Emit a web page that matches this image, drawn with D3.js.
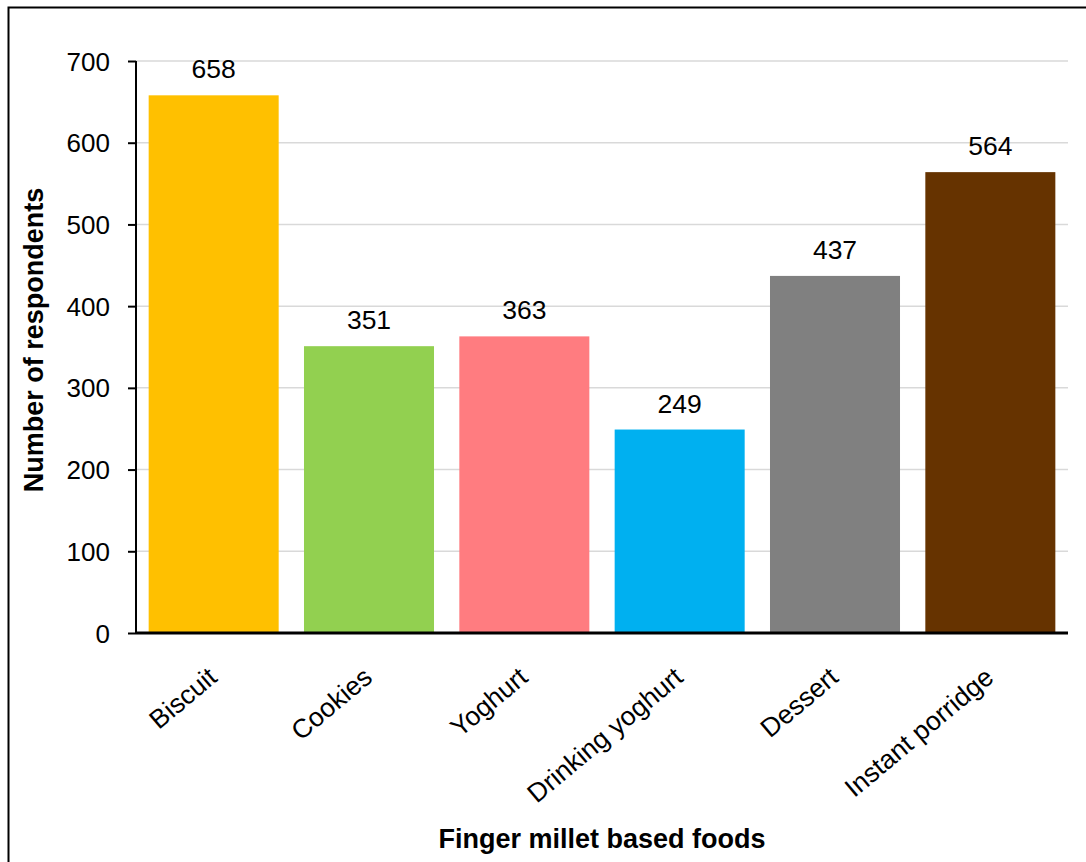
<!DOCTYPE html>
<html>
<head>
<meta charset="utf-8">
<script src="https://d3js.org/d3.v7.min.js"></script>
<style>
    body { margin: 0; background: #fff; }
    text { font-family: "Liberation Sans", Arial, sans-serif; fill: #000; }
</style>
</head>
<body>
<svg id="chart" width="1086" height="862"></svg>
<script>
    // data
    var categories = ["Biscuit", "Cookies", "Yoghurt", "Drinking yoghurt", "Dessert", "Instant porridge"];
    var values = [658, 351, 363, 249, 437, 564];
    var colors = ["#FFC000", "#92D050", "#FF7C80", "#00B0F0", "#808080", "#663300"];
    var yTicks = [0, 100, 200, 300, 400, 500, 600, 700];

    var svg = d3.select("#chart");

    // outer frame (runs off the right/bottom edge)
    svg.append("rect")
        .attr("x", 8.5).attr("y", 7.5)
        .attr("width", 1100).attr("height", 900)
        .attr("fill", "none").attr("stroke", "#000").attr("stroke-width", 2);

    var pLeft = 136, pRight = 1068, pTop = 61, pBottom = 633;

    var xs = d3.scaleBand().domain(categories).range([pLeft, pRight]).paddingInner(0.163).paddingOuter(0.0815);
    var ys = d3.scaleLinear().domain([0, 700]).range([pBottom, pTop]);

    // gridlines
    svg.append("g")
        .selectAll("line").data(yTicks.slice(1)).enter().append("line")
        .attr("x1", pLeft).attr("x2", pRight)
        .attr("y1", function (d) { return ys(d); })
        .attr("y2", function (d) { return ys(d); })
        .attr("stroke", "#d9d9d9").attr("stroke-width", 1.5);

    // bars
    svg.append("g")
        .selectAll("rect").data(values).enter().append("rect")
        .attr("x", function (d, i) { return xs(categories[i]); })
        .attr("y", function (d) { return ys(d); })
        .attr("width", xs.bandwidth())
        .attr("height", function (d) { return pBottom - ys(d); })
        .attr("fill", function (d, i) { return colors[i]; });

    // value labels
    svg.append("g")
        .selectAll("text").data(values).enter().append("text")
        .attr("x", function (d, i) { return xs(categories[i]) + xs.bandwidth() / 2; })
        .attr("y", function (d) { return ys(d) - 17; })
        .attr("text-anchor", "middle")
        .style("font-size", "26.5px")
        .text(function (d) { return d; });

    // y axis
    var yAxis = svg.append("g")
        .attr("transform", "translate(" + pLeft + ",0)")
        .call(d3.axisLeft(ys).tickValues(yTicks).tickSize(8).tickPadding(18));
    yAxis.select(".domain").attr("stroke", "#000").attr("stroke-width", 2).attr("d", "M0," + pTop + "V" + pBottom);
    yAxis.selectAll(".tick line").attr("stroke", "#000").attr("stroke-width", 2);
    yAxis.selectAll(".tick text").style("font-size", "26px").style("font-family", "'Liberation Sans', Arial, sans-serif").attr("dy", "0.35em");

    // x axis
    var xAxis = svg.append("g")
        .attr("transform", "translate(0," + pBottom + ")")
        .call(d3.axisBottom(xs).tickSize(0).tickPadding(0));
    xAxis.select(".domain").attr("stroke", "#000").attr("stroke-width", 3).attr("d", "M" + pLeft + ",0H" + pRight);
    xAxis.selectAll(".tick text")
        .style("font-size", "26.5px")
        .style("font-family", "'Liberation Sans', Arial, sans-serif")
        .attr("text-anchor", "end")
        .attr("y", 0)
        .attr("dy", 0)
        .attr("transform", "translate(5,47) rotate(-40)");

    // axis titles
    svg.append("text")
        .attr("transform", "translate(43,340) rotate(-90)")
        .attr("text-anchor", "middle")
        .style("font-size", "27px").style("font-weight", "bold")
        .text("Number of respondents");

    svg.append("text")
        .attr("x", 602).attr("y", 848)
        .attr("text-anchor", "middle")
        .style("font-size", "27px").style("font-weight", "bold")
        .text("Finger millet based foods");
</script>
</body>
</html>
